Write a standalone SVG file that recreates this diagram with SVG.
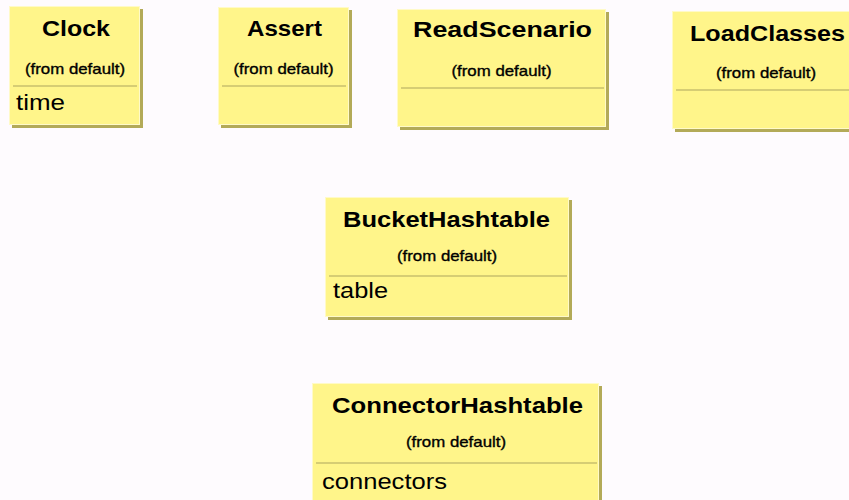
<svg xmlns="http://www.w3.org/2000/svg" width="849" height="500" viewBox="0 0 849 500">
<style>
.shadow{fill:#b3aa58}
.box{fill:#fff58a;stroke:#fffac8;stroke-width:1}
.sep{stroke:#c8bf6c;stroke-width:1.5}
.title{font-family:"Liberation Sans",Arial,sans-serif;font-weight:bold;font-size:22px;fill:#000;text-anchor:middle}
.from{font-family:"Liberation Sans",Arial,sans-serif;font-size:15px;fill:#000;stroke:#000;stroke-width:0.35;text-anchor:middle}
.attr{font-family:"Liberation Sans",Arial,sans-serif;font-size:22px;fill:#000}
</style>
<rect width="849" height="500" fill="#fefbfe"/>
<g id="connectors"></g>
<g id="Clock">
<rect class="shadow" x="12" y="9" width="131" height="119"/>
<rect class="box" x="9.5" y="6.5" width="130" height="118"/>
<line class="sep" x1="13" y1="86" x2="137" y2="86"/>
<text class="title" x="76" y="36" textLength="68" lengthAdjust="spacingAndGlyphs">Clock</text>
<text class="from" x="75" y="74" textLength="100" lengthAdjust="spacingAndGlyphs">(from default)</text>
<text class="attr" x="16" y="110" textLength="49" lengthAdjust="spacingAndGlyphs">time</text>
</g>
<g id="Assert">
<rect class="shadow" x="221" y="10" width="131" height="118"/>
<rect class="box" x="218.5" y="7.5" width="130" height="117"/>
<line class="sep" x1="222" y1="86" x2="346" y2="86"/>
<text class="title" x="284.5" y="36" textLength="75" lengthAdjust="spacingAndGlyphs">Assert</text>
<text class="from" x="283.5" y="74" textLength="100" lengthAdjust="spacingAndGlyphs">(from default)</text>
</g>
<g id="ReadScenario">
<rect class="shadow" x="400" y="12" width="209" height="118"/>
<rect class="box" x="397.5" y="9.5" width="208" height="117"/>
<line class="sep" x1="401" y1="88" x2="604" y2="88"/>
<text class="title" x="502.5" y="37" textLength="179" lengthAdjust="spacingAndGlyphs">ReadScenario</text>
<text class="from" x="501.5" y="76" textLength="100" lengthAdjust="spacingAndGlyphs">(from default)</text>
</g>
<g id="LoadClasses">
<rect class="shadow" x="675" y="14" width="190" height="118"/>
<rect class="box" x="672.5" y="11.5" width="189" height="117"/>
<line class="sep" x1="676" y1="90" x2="860" y2="90"/>
<text class="title" x="767.5" y="41" textLength="155" lengthAdjust="spacingAndGlyphs">LoadClasses</text>
<text class="from" x="766" y="78" textLength="100" lengthAdjust="spacingAndGlyphs">(from default)</text>
</g>
<g id="BucketHashtable">
<rect class="shadow" x="328" y="200" width="244" height="120"/>
<rect class="box" x="325.5" y="197.5" width="243" height="119"/>
<line class="sep" x1="329" y1="276" x2="567" y2="276"/>
<text class="title" x="446.5" y="227" textLength="207" lengthAdjust="spacingAndGlyphs">BucketHashtable</text>
<text class="from" x="447" y="261" textLength="100" lengthAdjust="spacingAndGlyphs">(from default)</text>
<text class="attr" x="333" y="298" textLength="55" lengthAdjust="spacingAndGlyphs">table</text>
</g>
<g id="ConnectorHashtable">
<rect class="shadow" x="315" y="386" width="287" height="130"/>
<rect class="box" x="312.5" y="383.5" width="286" height="129"/>
<line class="sep" x1="316" y1="463" x2="597" y2="463"/>
<text class="title" x="457.5" y="413" textLength="251" lengthAdjust="spacingAndGlyphs">ConnectorHashtable</text>
<text class="from" x="456" y="447" textLength="100" lengthAdjust="spacingAndGlyphs">(from default)</text>
<text class="attr" x="322" y="489" textLength="125" lengthAdjust="spacingAndGlyphs">connectors</text>
</g>
</svg>
